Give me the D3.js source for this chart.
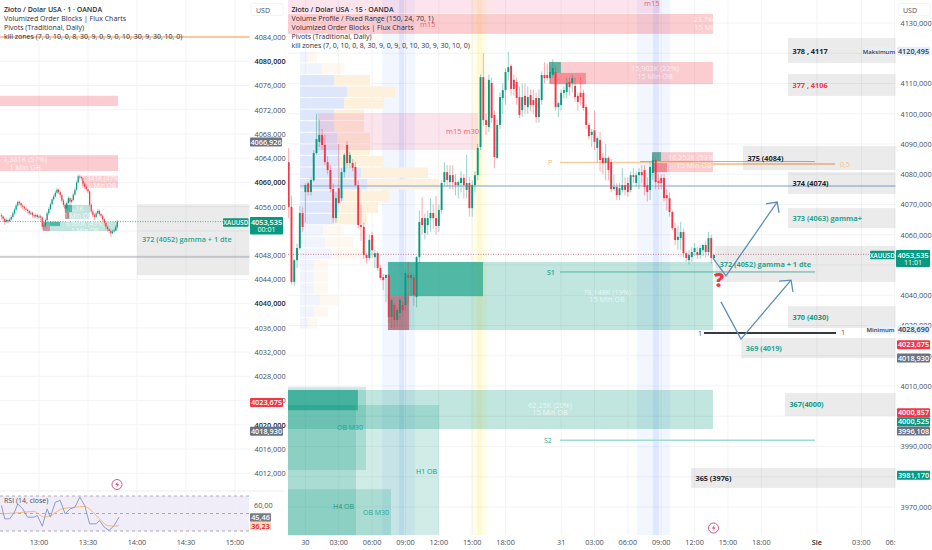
<!DOCTYPE html>
<meta charset="utf-8">
<style>
body { margin: 0; background: #fff; }
svg { display: block; }
text { font-family: "Open Sans", sans-serif; }
.axis text { font-size: 7.3px; fill: #4a4e59; font-family: "Open Sans", sans-serif; }
.axis .major text { fill: #1c1f28; font-weight: 600; }
</style>
<script src="https://d3js.org/d3.v7.min.js" charset="utf-8"></script>
<body>
<script>

// 15 min candles, [open, high, low, close]
var bars15 = [
[4084,4088.7,4065.5,4069.2],[4069.2,4073,4043.5,4044.4],[4044.4,4052,4043,4051.6],[4051.6,4057,4049,4055.6],
[4055.6,4069.5,4055,4067.2],[4067.2,4069,4061,4062.6],[4074.1,4077,4064,4076.4],[4077,4077.5,4073,4074.1],
[4074.1,4079,4073,4078.1],[4078,4088,4077.5,4087],[4087,4100,4086.5,4091.6],[4090.7,4098,4089,4093],
[4093,4095,4088,4089.7],[4089.7,4093,4083,4084],[4084,4086,4080,4081.4],[4081.4,4083,4074,4075.1],
[4075.1,4077,4064,4065.5],[4065.5,4074,4064,4072.1],[4075.4,4090,4070,4070.5],[4072.1,4082,4071,4080.7],
[4080.7,4087,4079,4086.4],[4089.7,4091,4082,4083.7],[4083.7,4087.5,4082,4086.4],[4083.7,4085,4081,4082.1],
[4082.4,4084,4076,4076.4],[4076.4,4078,4062,4063.2],[4063.2,4070,4058,4062.6],[4062.6,4064,4052,4053.3],
[4053.3,4054,4050.5,4052.3],[4052.3,4060,4051.5,4058.3],[4059.9,4061,4052.5,4054.9],[4052.6,4055,4049,4053.9],
[4053.9,4054.5,4048,4049],[4049,4050,4045,4045.7],[4046,4047,4041.7,4045],[4045.7,4047,4037.8,4046.7],
[4046.7,4047,4031,4032.8],[4032.8,4039,4029.2,4038.4],[4036.8,4037.5,4029,4031.8],[4031.8,4036,4029.5,4035.1],
[4034.1,4039,4032,4038.4],[4036.8,4038,4033,4035.1],[4036.8,4048,4035,4047.3],[4046.7,4051,4037,4045.7],
[4045.7,4047.5,4040,4046.7],[4046,4047,4036.5,4040.1],[4039.4,4053,4036,4052.6],[4052.6,4068,4050.5,4064.2],
[4065.5,4072.5,4060,4063.2],[4060.6,4067,4058.5,4065.5],[4063.2,4068,4060,4065.5],[4065.5,4072,4061,4067.2],
[4067.2,4070,4062,4065.5],[4065.5,4072.8,4060,4062.9],[4062.9,4070,4061,4068.2],[4068.2,4078,4067,4077.1],
[4077.4,4084,4076,4080.7],[4080.7,4083,4076,4078.1],[4077.4,4083,4075,4079.7],[4079.7,4083,4075,4077.4],
[4077.4,4080,4073,4076.4],[4076.4,4078,4072,4077.4],[4077.1,4081,4074,4078.8],[4078.8,4080,4072,4076.4],
[4074.8,4086.4,4072,4077.1],[4077.1,4079,4066,4068.8],[4068.8,4078,4066,4076.4],[4076.4,4081,4074,4079.7],
[4079.7,4090,4078,4088.7],[4089,4113,4088,4112.1],[4112.1,4120,4096,4097.9],[4097.9,4100,4093,4096.3],
[4095.6,4113,4094,4111.2],[4110.2,4112,4097,4098.6],[4099.6,4101,4082,4085.7],[4085.4,4098,4085,4096.3],
[4096.3,4107,4095,4105.5],[4105.2,4110,4100,4107.8],[4107.8,4115,4103,4113.8],[4113.8,4120.5,4111,4115.4],
[4115.8,4116.5,4106,4108.2],[4111.2,4113,4106,4108.2],[4110.5,4112,4103,4105.2],[4105.5,4109,4098.6,4099.6],
[4101.2,4110,4099,4105.5],[4105.9,4110,4100,4102.9],[4102.2,4109,4100,4105.5],[4106.2,4108,4101,4102.9],
[4104.5,4108,4100,4102.9],[4105.2,4107,4097,4098.9],[4098.9,4108,4097,4105.2],[4104.5,4114,4103,4112.8],
[4112.8,4117,4110,4111.8],[4112.8,4116.5,4111,4111.8],[4111.8,4116,4110,4113.8],[4112.8,4118,4112,4115.1],
[4113.8,4116,4101,4102.2],[4102.2,4104,4098.9,4103.5],[4102.9,4108,4101,4106.9],[4106.9,4109,4105,4107.8],
[4107.2,4112,4105,4110.2],[4110.5,4112,4106,4108.8],[4110.2,4113,4107,4111.8],[4109.2,4112,4104,4105.5],
[4105.9,4107,4101,4103.9],[4106.9,4112,4103,4105.5],[4106.9,4108,4101,4101.9],[4102.2,4103,4095,4096.3],
[4096.3,4097,4091.5,4092.6],[4093,4095,4089,4094],[4094.5,4101,4088,4090.7],[4088.7,4092.5,4084,4091.9],
[4091.3,4094,4081,4084.7],[4085.4,4087,4080,4083.7],[4083.7,4090,4078,4085.4],[4085.4,4086,4078,4081.4],
[4084,4085,4074,4075.1],[4075.1,4080,4074.5,4075.8],[4075.8,4077,4071.5,4073.1],[4073.1,4077,4071.5,4075.4],
[4074.8,4082,4074,4076.4],[4076.4,4079,4073,4074.8],[4077.1,4079,4072.5,4074.1],[4074.8,4081,4074,4079.7],
[4079.7,4082,4077,4079.1],[4077.1,4081,4076,4079.7],[4079.7,4082,4075,4080.7],[4080.7,4083,4077,4079.7],
[4081.4,4083,4073,4075.8],[4076.4,4079,4071,4074.1],[4074.8,4084,4071.5,4082.4],[4080.4,4086,4078,4084.7],
[4084.7,4085.5,4075,4077.4],[4077.7,4080,4075,4077.1],[4078.8,4080,4075,4077.1],[4078.8,4080,4071,4072.1],
[4073.1,4075,4068,4072.1],[4072.1,4074,4066,4067.5],[4067.5,4068,4061.5,4062.2],[4062.2,4064,4056.6,4058.3],
[4058.3,4063,4055,4059.3],[4058.9,4064.2,4055,4060.9],[4060.9,4062,4052.5,4053.9],[4053.9,4054.5,4051,4052.3],
[4051.6,4055,4050.2,4053.3],[4052.6,4056,4051,4054.3],[4054.3,4057.3,4053,4055.6],[4054.3,4056,4052,4053.3],
[4053.3,4056.5,4052,4055.6],[4054.9,4057,4053,4056.6],[4056.6,4058,4052.5,4054.3],[4054.3,4060.9,4053,4058.9],
[4058.9,4060,4050.5,4052.3],[4052.3,4053.6,4052,4053.3]
];

// 1 min series
var closes1 = [4054.4,4054.0,4053.5,4053.8,4053.6,4053.9,4054.3,4054.9,4055.5,4056.2,4056.8,4056.6,4056.2,4056.0,4055.7,4055.5,4055.3,4054.9,4055.0,4054.6,4054.4,4054.6,4054.3,4054.4,4054.2,4052.7,4052.9,4053.8,4054.9,4055.6,4056.4,4057.2,4057.7,4058.3,4058.8,4058.4,4057.9,4057.0,4056.3,4055.7,4056.6,4057.4,4056.8,4057.1,4058.0,4058.8,4060.0,4061.0,4060.9,4060.7,4059.8,4059.3,4058.9,4058.5,4056.3,4055.2,4054.6,4054.3,4054.9,4055.3,4054.8,4054.5,4053.9,4053.3,4052.7,4052.3,4052.0,4051.6,4051.9,4052.1,4052.7,4053.5];
var highs1 = [4054.9,4054.6,4054.2,4054.1,4054.0,4054.2,4054.6,4055.2,4055.8,4056.5,4057.0,4057.0,4056.8,4056.4,4056.2,4055.9,4055.7,4055.5,4055.3,4055.2,4054.8,4054.9,4054.8,4054.7,4054.7,4054.4,4053.3,4054.1,4055.2,4055.9,4056.7,4057.5,4058.0,4058.6,4059.1,4059.0,4058.6,4058.1,4057.3,4056.6,4056.9,4057.7,4057.6,4057.4,4058.3,4059.1,4060.3,4061.3,4061.3,4061.1,4060.9,4060.0,4059.5,4059.0,4058.7,4056.6,4055.5,4054.9,4055.2,4055.6,4055.5,4055.0,4054.7,4054.1,4053.5,4052.9,4052.5,4052.2,4052.2,4052.4,4053.0,4053.8];
var lows1 = [4053.9,4053.5,4053.0,4053.3,4053.2,4053.4,4053.7,4054.1,4054.7,4055.3,4056.0,4056.2,4055.8,4055.6,4055.3,4055.1,4054.9,4054.6,4054.6,4054.2,4054.0,4054.1,4053.9,4054.0,4053.7,4052.2,4052.3,4052.6,4053.6,4054.6,4055.4,4056.2,4057.0,4057.5,4058.1,4058.1,4057.5,4056.7,4056.0,4055.2,4055.5,4056.4,4056.4,4056.5,4056.9,4057.8,4058.7,4059.8,4060.5,4060.3,4059.5,4058.9,4058.6,4058.2,4056.0,4054.9,4054.3,4053.8,4054.1,4054.7,4054.4,4054.1,4053.5,4052.9,4052.3,4051.9,4051.6,4051.0,4051.5,4051.7,4051.9,4052.5];
var rsiBars = [0,2,5,8,10,13,16,20,22,25,28,30,33,36,39,42,45,48,51,54,58,60,63,66,69,72];
var rsiValues = [59.1,43.9,43.9,51.5,61,55.3,45.8,45.8,47.7,35.5,55.3,45.8,63,64.9,49.6,55.3,57.2,68.7,59.1,38.2,38.2,42,34.4,30.6,36.3,45.8];
var rsiMaBars = [0,10,20,26,31,37,45,51,55,61,65,69,72];
var rsiMaValues = [49.6,50.8,52.3,45.8,48.5,55.3,57.2,58,53.4,42,36.3,35.5,36.3];

// tick labels, positions in bars
var timeTicks1 = [[23,"13:00"],[53,"13:30"],[83,"14:00"],[113,"14:30"],[143,"15:00"]];
var timeTicks15 = [[6,"30"],[18,"03:00"],[30,"06:00"],[42,"09:00"],[54,"12:00"],[66,"15:00"],[78,"18:00"],[98,"31"],[110,"03:00"],[122,"06:00"],[134,"09:00"],[146,"12:00"],[158,"15:00"],[170,"18:00"],[190,"Sie"],[206,"03:00"],[218,"06:00"]];
var gridLines1 = d3.range(4012, 4085, 4);
var gridLines15 = d3.range(3970, 4131, 10);
// the ticks a price tag hides completely are left out
var priceTicks1 = gridLines1.filter(function(d) { return d !== 4052; });
var priceTicks15 = gridLines15.filter(function(d) { return [4120, 4050, 4000, 3980].indexOf(d) < 0; });

// volume profile, 24 rows between the range low and high
var vpHigh = 4120.495, vpLow = 4028.69;
var vpUp = [8,22,34,47,44,34,34,37,39,39,61,67,44,39,34,23,25,31,14,14,14,20,14,8];
var vpTotal = [17,44,70,95,84,64,64,70,70,84,128,139,89,78,67,44,53,63,28,28,28,38,28,17];

// zones, [bar from, bar to, price top, price bottom]
var killBlue = [[33.6,45.4],[125.3,137.2]];
var killBlueCore = [[39.7,41.5],[131,133.2]];
var killYellow = [[65.6,71.3]];
var killYellowCore = [[67.7,69.5]];
var faintPink = [[-1,133.6,4137.6,4133.3],[10.5,68.1,4100.2,4088]];
var pinkObs = [[-1,152.6,4133,4126.4],[93.6,152.6,4117.1,4109.8],[130.7,152.6,4087.3,4080.7]];
var redCores = [[94,106.9,4113.5,4109.8],[131,136.1,4083.7,4080.7]];
var tealObs = [[35.7,152.6,4051,4028.5],[-1,152.6,4008.7,3995.8]];
var tealCores = [[35.7,69.9,4051,4039.7],[93.6,97.9,4117.1,4113.5],[130.7,133.9,4087.3,4083.7],[-1,24.9,4008.7,4002]];
var brickCores = [[35.7,43.3,4039.7,4028.5]];
var tealFar = [[-1,27.8,4009.7,3982.2],[-1,54.1,4003.7,3960.7],[-1,24.2,4003.7,3960.7],[-1,36.8,3975.9,3960.7]];
var greyBoxes = [[179.6,219,4125,4116.8],[179.6,219,4113.1,4105.9],[163.4,219,4089.3,4081.4],[179.6,219,4080.7,4073.5],[179.6,219,4068.8,4062.2],[153.4,219,4056.3,4044.4],[179.6,219,4036.4,4029.2],[162.8,219,4025.9,4019.2],[178.5,219,4007.7,4000.1],[144.7,219,3982.9,3976.3]];
var greyLabels = ["378 , 4117","377 , 4106","375 (4084)","374 (4074)","373 (4063) gamma+","372 (4052) gamma + 1 dte","370 (4030)","369 (4019)","367(4000)","365 (3976)"];
var greyLabelColors = ["#22262f","#f23645","#22262f","#22262f","#26a690","#26a690","#0f9a82","#26a690","#0f9a82","#22262f"];

var pinkObs1 = [[-2,71.4,4074.3,4072.6],[-2,71.4,4064.5,4061.9],[49.3,71.4,4061.1,4059.1]];
var tealObs1 = [[38.9,54.2,4056.3,4054],[29.7,71.4,4053.5,4052]];
var tealCores1 = [[38.9,43.2,4056.3,4055.1],[25.4,35.9,4053.5,4052.8]];
var brickCores1 = [[38.9,41.4,4055.1,4054],[25.4,29.7,4052.8,4052]];

var arrow1 = [[152.6,4052.3],[157.3,4046.4],[175.7,4070.8]];
var arrow1Head = [[171.7,4070.2],[175.7,4070.8],[176.4,4067.2]];
var arrow2 = [[155.5,4037.8],[162.7,4025.5],[180.7,4045]];
var arrow2Head = [[176.4,4044.7],[180.7,4045],[181.4,4041.1]];

var w = 932, h = 550;
var svg = d3.select("body").append("svg").attr("width", w).attr("height", h);

var x1 = d3.scaleLinear().domain([0, 1]).range([1.44, 3.073]);
var y1 = d3.scaleLinear().domain([4084, 4012]).range([37, 473.3]);
var x15 = d3.scaleLinear().domain([0, 1]).range([288.7, 291.48]);
var y15 = d3.scaleLinear().domain([4130, 3970]).range([23, 507]);
var yRsi = d3.scaleLinear().domain([30, 70]).range([531, 496]);

var defs = svg.append("defs");
defs.append("clipPath").attr("id", "leftClip").append("rect").attr("width", 249.5).attr("height", 491);
defs.append("clipPath").attr("id", "rightClip").append("rect").attr("x", 288).attr("width", 607.5).attr("height", 535);
defs.append("clipPath").attr("id", "axisClip").append("rect").attr("x", 288).attr("y", 530).attr("width", 607.5).attr("height", 20);
defs.append("clipPath").attr("id", "zoneClip").append("rect").attr("x", 288).attr("width", 425).attr("height", 535);

function zones(g, rows, x, y, fill) {
  g.selectAll(null).data(rows).enter().append("rect")
    .attr("x", function(d) { return x(d[0]); })
    .attr("width", function(d) { return x(d[1]) - x(d[0]); })
    .attr("y", function(d) { return d.length > 2 ? y(d[2]) : 0; })
    .attr("height", function(d) { return d.length > 2 ? y(d[3]) - y(d[2]) : 535; })
    .attr("fill", fill);
}

function label(g, px, py, str, size, fill, anchor, weight) {
  return g.append("text").attr("x", px).attr("y", py).attr("font-size", size)
    .attr("fill", fill).attr("text-anchor", anchor || "start").attr("font-weight", weight || 400).text(str);
}

function grid(g, xTicks, yTicks, x, y, x0, x2, y2) {
  g.selectAll(null).data(yTicks).enter().append("line")
    .attr("x1", x0).attr("x2", x2).attr("y1", y).attr("y2", y).attr("stroke", "#f2f3f5");
  g.selectAll(null).data(xTicks).enter().append("line")
    .attr("x1", function(d) { return x(d[0]); }).attr("x2", function(d) { return x(d[0]); })
    .attr("y1", 0).attr("y2", y2).attr("stroke", "#f2f3f5");
}

function candles(g, rows, x, y, bodyWidth) {
  var up = function(d) { return d[3] >= d[0]; };
  g.selectAll(null).data(rows).enter().append("line")
    .attr("x1", function(d, i) { return x(i); }).attr("x2", function(d, i) { return x(i); })
    .attr("y1", function(d) { return y(d[1]); }).attr("y2", function(d) { return y(d[2]); })
    .attr("stroke", function(d) { return up(d) ? "#089981" : "#f23645"; })
    .attr("stroke-opacity", 0.42);
  g.selectAll(null).data(rows).enter().append("rect")
    .attr("x", function(d, i) { return x(i) - bodyWidth / 2; })
    .attr("width", bodyWidth)
    .attr("y", function(d) { return y(Math.max(d[0], d[3])); })
    .attr("height", function(d) { return Math.max(1, Math.abs(y(d[0]) - y(d[3]))); })
    .attr("fill", function(d) { return up(d) ? "#089981" : "#f23645"; });
}

function priceAxis(px, scale, ticks, isMajor) {
  var g = svg.append("g").attr("class", "axis").attr("transform", "translate(" + px + ",0)")
    .call(d3.axisRight(scale).tickValues(ticks).tickSize(0).tickPadding(4.5)
      .tickFormat(function(d) { return d3.format(".3f")(d).replace(".", ","); }));
  g.select(".domain").remove();
  g.selectAll(".tick").classed("major", isMajor);
}

function tag(px, cy, wd, ht, fill, str, color, size) {
  svg.append("rect").attr("x", px).attr("y", cy - ht / 2).attr("width", wd).attr("height", ht).attr("fill", fill).attr("rx", 1);
  label(svg, px + wd / 2, cy + 2.6, str, size || 7.3, color || "#fff", "middle", 600);
}

function bolt(cx, cy) {
  svg.append("circle").attr("cx", cx).attr("cy", cy).attr("r", 5).attr("fill", "#fff").attr("stroke", "#cf5a84").attr("stroke-width", 1);
  svg.append("path").attr("d", "M" + (cx + 1.2) + " " + (cy - 3.2) + "l-3 3.6h2l-1 2.8l3-3.6h-2z").attr("fill", "#cf5a84");
}

// left pane, 1 min
var left = svg.append("g").attr("clip-path", "url(#leftClip)");
grid(left, timeTicks1, gridLines1, x1, y1, 0, 250, 491);
zones(left, pinkObs1, x1, y1, "rgba(242,54,69,.25)");
zones(left, tealObs1, x1, y1, "rgba(8,153,129,.25)");
zones(left, tealCores1, x1, y1, "rgba(8,153,129,.6)");
zones(left, brickCores1, x1, y1, "rgba(178,40,60,.5)");
zones(left, [[83,152,4056.4,4044.7]], x1, y1, "rgba(120,120,120,.15)");
label(left, x1(86), y1(4050.2), "372 (4052) gamma + 1 dte", 7.3, "#26a690", "start", 600);
left.append("line").attr("x1", 0).attr("x2", 250).attr("y1", y1(4084)).attr("y2", y1(4084)).attr("stroke", "#fbc79b").attr("stroke-width", 2);
left.append("line").attr("x1", 0).attr("x2", 250).attr("y1", y1(4047.7)).attr("y2", y1(4047.7)).attr("stroke", "#a3a6ad").attr("stroke-width", 1);
left.append("line").attr("x1", 0).attr("x2", 250).attr("y1", y1(4053.535)).attr("y2", y1(4053.535)).attr("stroke", "#089981").attr("stroke-opacity", .7).attr("stroke-dasharray", "1 1.5");
var rows1 = closes1.map(function(c, i) { return [i ? closes1[i - 1] : 4054.6, highs1[i], lows1[i], c]; });
candles(left, rows1, x1, y1, 1.2);
label(left, 25, 161.5, "1,381K (57%)", 7.3, "#fff", "middle").attr("fill-opacity", .75);
label(left, 25, 169.5, "1 Min OB", 7.3, "#fff", "middle").attr("fill-opacity", .75);
label(left, 101, 181, "1,341K (47%)", 6.5, "#fff", "middle").attr("fill-opacity", .8);
label(left, 102, 187.5, "1 Min OB", 6.5, "#fff", "middle").attr("fill-opacity", .8);
label(left, 78, 210.5, "..1K", 6.5, "#fff", "middle").attr("fill-opacity", .8);
label(left, 78, 217.5, "1 Min OB", 6.5, "#fff", "middle").attr("fill-opacity", .8);
label(left, 85, 225.5, "3,660K (43%)", 6.5, "#fff", "middle").attr("fill-opacity", .8);
label(left, 85, 232.5, "1 Min OB", 6.5, "#fff", "middle").attr("fill-opacity", .8);

// RSI
svg.append("rect").attr("x", 0).attr("width", 249).attr("y", yRsi(70)).attr("height", yRsi(30) - yRsi(70)).attr("fill", "#f0ecf8");
svg.append("line").attr("x1", 0).attr("x2", 285).attr("y1", 491).attr("y2", 491).attr("stroke", "#eceef1");
svg.selectAll(null).data(timeTicks1).enter().append("line")
  .attr("x1", function(d) { return x1(d[0]); }).attr("x2", function(d) { return x1(d[0]); })
  .attr("y1", 491).attr("y2", 536).attr("stroke", "#f0f1f4");
svg.selectAll(null).data([70, 50, 30]).enter().append("line")
  .attr("x1", 0).attr("x2", 249).attr("y1", yRsi).attr("y2", yRsi)
  .attr("stroke", "#8a8d96").attr("stroke-width", .7).attr("stroke-dasharray", "3 3");
svg.append("path").attr("fill", "none").attr("stroke", "#fbb873").attr("stroke-width", 1)
  .attr("d", d3.line().curve(d3.curveMonotoneX).x(function(d) { return x1(d); }).y(function(d, i) { return yRsi(rsiMaValues[i]); })(rsiMaBars));
svg.append("path").attr("fill", "none").attr("stroke", "#8b9dcc").attr("stroke-width", 1)
  .attr("d", d3.line().x(function(d) { return x1(d); }).y(function(d, i) { return yRsi(rsiValues[i]); })(rsiBars));
label(svg, 4, 503, "RSI (14, close)", 7, "#4a4e59");
label(svg, 254, 507.5, "60,00", 7.3, "#4a4e59");
tag(250, 517.5, 21, 8.5, "#787b86", "45,46");
tag(250, 526, 21, 8.5, "#fdd9b5", "36,23", "#d3212f");

// right pane, 15 min
var right = svg.append("g").attr("clip-path", "url(#rightClip)");
grid(right, timeTicks15, gridLines15, x15, y15, 288, 896, 535);
zones(right, killBlue, x15, y15, "rgba(33,100,255,.06)");
zones(right, killBlueCore, x15, y15, "rgba(33,100,255,.09)");
zones(right, killYellow, x15, y15, "rgba(255,235,59,.1)");
zones(right, killYellowCore, x15, y15, "rgba(255,235,59,.17)");

var vpY = d3.scaleLinear().domain([0, 24]).range([y15(vpHigh), y15(vpLow)]);
var vpX = d3.scaleLinear().domain([0, 139]).range([x15(4.1), x15(4.1) + 139]);
var vp = right.selectAll(null).data(vpTotal).enter().append("g")
  .attr("opacity", function(d, i) { return i < 2 || i > 14 ? 0.42 : 1; });
vp.append("rect").attr("x", function(d, i) { return vpX(vpUp[i]); })
  .attr("width", function(d, i) { return vpX(d) - vpX(vpUp[i]); })
  .attr("y", function(d, i) { return vpY(i); }).attr("height", vpY(1) - vpY(0) - 1)
  .attr("fill", "#fdf0dc");
vp.append("rect").attr("x", vpX(0))
  .attr("width", function(d, i) { return vpX(vpUp[i]) - vpX(0); })
  .attr("y", function(d, i) { return vpY(i); }).attr("height", vpY(1) - vpY(0) - 1)
  .attr("fill", "#dee6fb");

zones(right, faintPink, x15, y15, "rgba(233,30,99,.12)");
zones(right, pinkObs, x15, y15, "rgba(242,54,69,.25)");
zones(right, tealFar, x15, y15, "rgba(8,153,129,.19)");
zones(right, tealObs, x15, y15, "rgba(8,153,129,.25)");
zones(right, tealCores, x15, y15, "rgba(8,153,129,.6)");
zones(right, redCores, x15, y15, "rgba(242,54,69,.42)");
zones(right, brickCores, x15, y15, "rgba(178,40,60,.5)");

function hline(x0, x2, price, color, width) {
  right.append("line").attr("x1", x15(x0)).attr("x2", x15(x2)).attr("y1", y15(price)).attr("y2", y15(price))
    .attr("stroke", color).attr("stroke-width", width);
}
hline(4.1, 219, 4076.1, "#abbedd", 1.5);
hline(97.6, 145.4, 4083.9, "#fbc79b", 1.2);
hline(126.4, 189.3, 4084.2, "#f58f8f", 1);
hline(145.4, 196.5, 4083.4, "#fbc79b", 2);
hline(97.6, 189.3, 4047.7, "#4db8a3", 1);
hline(97.6, 189.3, 3992.1, "#9fdcd0", 1.5);
hline(149.4, 196.9, 4027.5, "#363a45", 2);

right.append("line").attr("x1", 288).attr("x2", 896).attr("y1", y15(4053.535)).attr("y2", y15(4053.535))
  .attr("stroke", "#c77f96").attr("stroke-dasharray", "1 1.5");
candles(right, bars15, x15, y15, 1.9);

zones(right, greyBoxes, x15, y15, "rgba(120,120,120,.15)");
greyLabels.forEach(function(s, i) {
  var b = greyBoxes[i];
  label(right, x15(b[0]) + 4.5, (y15(b[2]) + y15(b[3])) / 2 + 3, s, 7.3, greyLabelColors[i], "start", 700);
});

label(right, 420, 27, "m15", 7.5, "#f2606c");
label(right, 644, 6, "m15", 7.5, "#f2606c");
label(right, 446, 134, "m15 m30", 7.5, "#f2606c");
label(right, 548, 165, "P", 7, "#f8ad7a");
label(right, 840, 167, "0,5", 7, "#f8c08c");
label(right, 547, 275, "S1", 7, "#26a690", "start", 600);
label(right, 544, 442.5, "S2", 7, "#26a690");
label(right, 698, 336, "1", 7, "#4a4e59");
label(right, 841, 335, "1", 7, "#4a4e59");
label(right, 337, 430, "OB  M30", 7, "#26a690");
label(right, 416, 474, "H1 OB", 7, "#0f9a82");
label(right, 333, 509, "H4 OB", 7, "#0f9a82");
label(right, 363, 515, "OB  M30", 7, "#26a690");
var obText = svg.append("g").attr("clip-path", "url(#zoneClip)");
[[655,70.5,"15,902K (22%)"],[655,78.5,"15 Min OB"],[692,159.5,"16,252K (59%)"],[694,167.5,"15 Min OB"],[607,294.5,"78,148K (19%)"],[607,302,"15 Min OB"],[550,407.5,"62,25K (20%)"],[550,415,"15 Min OB"],[712,22,"23,744K (..)"],[712,30,"15 Min OB"]].forEach(function(t) {
  label(obText, t[0], t[1], t[2], 7.3, "#fff", "middle").attr("fill-opacity", .7);
});

var arrowLine = d3.line().x(function(d) { return x15(d[0]); }).y(function(d) { return y15(d[1]); });
[arrow1, arrow1Head, arrow2, arrow2Head].forEach(function(a) {
  right.append("path").attr("d", arrowLine(a)).attr("fill", "none").attr("stroke", "#5b8fb9").attr("stroke-width", 1.3);
});
label(right, 719, 287, "?", 20, "#f23645", "middle", 800);

// legends
var legends1 = ["Złoto / Dolar USA · 1 · OANDA", "Volumized Order Blocks | Flux Charts", "Pivots (Traditional, Daily)", "kill zones (7, 0, 10, 0, 8, 30, 9, 0, 9, 0, 10, 30, 9, 30, 10, 0)"];
legends1.forEach(function(s, i) { label(svg, 4, 11.5 + i * 9, s, 7, "#2a2e39", "start", i ? 400 : 600); });
var legends15 = ["Złoto / Dolar USA · 15 · OANDA", "Volume Profile / Fixed Range (150, 24, 70, 1)", "Volumized Order Blocks | Flux Charts", "Pivots (Traditional, Daily)", "kill zones (7, 0, 10, 0, 8, 30, 9, 0, 9, 0, 10, 30, 9, 30, 10, 0)"];
legends15.forEach(function(s, i) { label(svg, 291.5, 11.5 + i * 9, s, 7, "#2a2e39", "start", i ? 400 : 600); });

// axes and price tags
priceAxis(250, y1, priceTicks1, function(d) { return d % 20 === 0; });
priceAxis(896, y15, priceTicks15, function() { return false; });

svg.selectAll(null).data(timeTicks1).enter().append("text")
  .attr("x", function(d) { return x1(d[0]); }).attr("y", 545).attr("font-size", 7.3).attr("fill", "#4a4e59")
  .attr("text-anchor", "middle").text(function(d) { return d[1]; });
svg.append("g").attr("clip-path", "url(#axisClip)").selectAll(null).data(timeTicks15).enter().append("text")
  .attr("x", function(d) { return x15(d[0]); }).attr("y", 545).attr("font-size", 7.3)
  .attr("fill", function(d) { return d[1] === "Sie" ? "#1c1f28" : "#4a4e59"; })
  .attr("font-weight", function(d) { return d[1] === "Sie" ? 600 : 400; })
  .attr("text-anchor", "middle").text(function(d) { return d[1]; });

[[251,32],[898,32]].forEach(function(b) {
  svg.append("rect").attr("x", b[0]).attr("y", 3.5).attr("width", b[1]).attr("height", 12).attr("rx", 2).attr("fill", "#fff").attr("stroke", "#f0f3fa");
  label(svg, b[0] + 5, 12.5, "USD", 7, "#4a4e59");
});

var f = function(v) { return d3.format(".3f")(v).replace(".", ","); };
// left tags
tag(250, y1(4066.926) + 1.5, 32, 9, "#6b7280", f(4066.926));
tag(250, y1(4023.675), 33, 9, "#f23645", f(4023.675));
tag(250, y1(4018.93), 33, 9, "#6b7280", f(4018.93));
svg.append("rect").attr("x", 250).attr("y", 217).attr("width", 33).attr("height", 17.5).attr("fill", "#089981").attr("rx", 1);
label(svg, 266.5, 224.5, f(4053.535), 7.3, "#fff", "middle", 600);
label(svg, 266.5, 232, "00:01", 7, "#fff", "middle");
tag(223, 222.5, 25.5, 8.5, "#089981", "XAUUSD", "#fff", 6.2);

// right tags
tag(897, y15(4120.495) - .5, 33, 9, "#e3effd", f(4120.495), "#363a45");
tag(864, y15(4120.495) - .5, 30, 8.5, "#e3effd", "Maksimum", "#363a45", 6);
tag(897, y15(4028.69), 33, 9, "#e3effd", f(4028.69), "#363a45");
tag(867, y15(4028.69), 27, 8.5, "#e3effd", "Minimum", "#363a45", 6);
tag(897, y15(4023.675), 33, 9, "#f23645", f(4023.675));
tag(897, y15(4018.93) - 1, 33, 9, "#6b7280", f(4018.93));
svg.append("rect").attr("x", 896).attr("y", 250).attr("width", 34).attr("height", 17).attr("fill", "#089981").attr("rx", 1);
label(svg, 913, 257.5, f(4053.535), 7.3, "#fff", "middle", 600);
label(svg, 913, 265, "11:01", 7, "#fff", "middle");
tag(870, 255, 24.5, 8.5, "#089981", "XAUUSD", "#fff", 6.2);
tag(897, y15(4000.857) - 1, 33, 9, "#f23645", f(4000.857));
tag(897, y15(4000.525) + 7, 33, 9, "#089981", f(4000.525));
tag(897, y15(3996.108) + 3, 33, 9, "#6b7280", f(3996.108));
tag(897, y15(3981.17) + 2, 33, 9, "#089981", f(3981.17));

bolt(117, 484.5);
bolt(713.5, 528);

</script>
</body>
